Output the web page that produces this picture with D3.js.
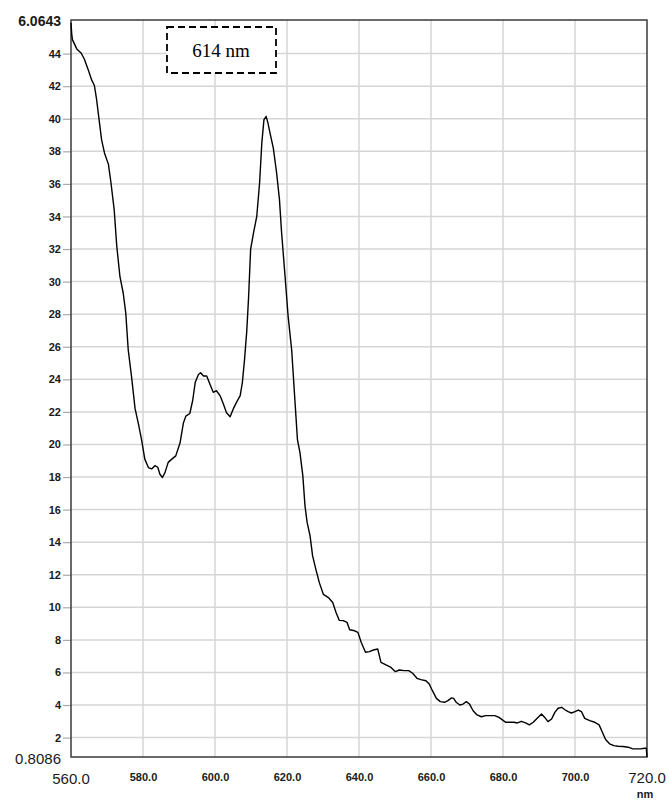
<!DOCTYPE html>
<html>
<head>
<meta charset="utf-8">
<script src="https://cdn.jsdelivr.net/npm/d3@7/dist/d3.min.js"></script>
<style>
  html, body { margin: 0; padding: 0; background: #fff; }
  svg { display: block; }
</style>
</head>
<body>
<svg id="chart" width="669" height="801"></svg>
<script>
// ---- data ----
const wavelength = [
  560.0,560.2,560.4,561.6,562.8,563.7,564.8,565.7,566.5,567.1,567.8,568.5,569.3,570.4,571.1,572.0,572.7,573.6,574.5,575.2,
  575.9,576.8,577.8,578.7,579.6,580.5,581.5,582.4,583.3,584.1,584.7,585.4,586.1,587.0,588.0,589.1,590.3,591.2,591.9,593.0,
  593.8,594.5,595.4,596.0,596.8,597.7,598.6,599.5,600.4,601.4,602.3,603.2,604.2,605.1,606.0,607.0,607.6,608.2,608.8,609.3,
  609.9,610.7,611.6,612.4,613.0,613.6,614.2,614.7,615.5,616.2,617.1,617.9,618.5,619.4,620.3,621.3,622.2,622.9,623.6,624.4,
  625.0,625.6,626.4,627.1,628.0,629.0,630.1,631.5,632.7,633.6,634.5,635.6,636.7,637.4,638.8,639.7,640.6,641.8,642.9,644.0,
  645.2,646.1,647.5,648.9,650.1,651.2,652.6,653.8,654.9,656.1,657.2,658.6,659.5,660.4,661.5,662.6,663.8,664.7,665.7,666.3,
  667.0,668.0,668.9,669.8,670.7,671.7,672.8,674.0,675.2,676.3,677.7,678.9,680.1,680.8,681.9,683.0,684.0,685.1,686.3,687.3,
  688.4,689.5,690.7,691.6,692.5,693.5,694.4,695.3,696.3,697.2,698.1,699.0,700.0,700.9,701.8,702.7,704.1,705.5,706.7,707.6,
  708.5,709.6,710.8,712.0,713.4,714.8,716.0,717.1,718.2,719.4,719.8,720.0
];
const absorbance = [
  45.9,45.2,44.86,44.29,44.04,43.67,43.0,42.4,42.04,41.2,39.95,38.7,37.9,37.2,36.07,34.4,32.2,30.3,29.3,28.1,
  25.8,24.2,22.2,21.3,20.3,19.1,18.58,18.5,18.7,18.6,18.17,17.97,18.27,18.9,19.1,19.3,20.1,21.3,21.74,21.9,
  22.7,23.8,24.3,24.4,24.2,24.2,23.7,23.2,23.3,23.0,22.5,21.95,21.7,22.2,22.6,23.0,23.8,25.2,26.9,28.9,
  32.0,33.0,34.0,36.1,38.5,39.95,40.15,39.75,38.9,38.2,36.7,35.05,33.0,30.5,27.9,25.8,22.7,20.3,19.5,18.07,
  16.23,15.2,14.4,13.17,12.35,11.5,10.8,10.6,10.3,9.7,9.2,9.18,9.07,8.62,8.56,8.46,7.85,7.24,7.28,7.38,
  7.44,6.62,6.46,6.31,6.05,6.15,6.11,6.11,5.95,5.64,5.56,5.49,5.29,4.88,4.41,4.21,4.17,4.27,4.44,4.41,
  4.17,4.0,4.06,4.21,4.06,3.65,3.39,3.28,3.35,3.35,3.35,3.24,3.04,2.94,2.94,2.94,2.9,3.0,2.9,2.78,
  2.94,3.19,3.45,3.24,2.98,3.14,3.55,3.8,3.86,3.71,3.59,3.51,3.59,3.69,3.59,3.18,3.04,2.94,2.78,2.33,
  1.88,1.62,1.51,1.47,1.45,1.41,1.31,1.31,1.31,1.35,1.35,0.81
];
const xDomain = [560, 720];
const yDomain = [0.8086, 46.0643];
const xTicks = [580, 600, 620, 640, 660, 680, 700];
const yTicks = [2,4,6,8,10,12,14,16,18,20,22,24,26,28,30,32,34,36,38,40,42,44];
const yMinLabel = "0.8086";
const yMaxLabel = "6.0643";
const xMinLabel = "560.0";
const xMaxLabel = "720.0";
const xUnit = "nm";
const annotation = "614 nm";

// ---- layout ----
const svg = d3.select("#chart");
const L = 71, R = 647, T = 20, B = 757;
const x = d3.scaleLinear().domain(xDomain).range([L, R]);
const y = d3.scaleLinear().domain(yDomain).range([B, T]);
const ink = "#1a1a1a";

// gridlines
svg.append("g").selectAll("line.v").data(xTicks).join("line")
  .attr("x1", d => x(d)).attr("x2", d => x(d))
  .attr("y1", T).attr("y2", B)
  .attr("stroke", "#d6d6d6").attr("stroke-width", 1.5);
svg.append("g").selectAll("line.h").data(yTicks).join("line")
  .attr("x1", L).attr("x2", R)
  .attr("y1", d => y(d)).attr("y2", d => y(d))
  .attr("stroke", "#d6d6d6").attr("stroke-width", 1.5);

// y axis ticks & labels
const yAxis = d3.axisLeft(y).tickValues(yTicks).tickSize(8).tickFormat(d3.format("d"));
const gy = svg.append("g").attr("transform", `translate(${L},0)`).call(yAxis);
gy.select(".domain").remove();
gy.selectAll(".tick line").attr("stroke", "#aaa").attr("stroke-width", 1.2);
gy.selectAll(".tick text")
  .attr("x", -10)
  .attr("fill", ink)
  .style("font-family", "'Liberation Sans', Arial, sans-serif")
  .style("font-size", "11px").style("font-weight", "bold");

// x axis labels
const xAxis = d3.axisBottom(x).tickValues(xTicks).tickSize(0).tickFormat(d3.format(".1f"));
const gx = svg.append("g").attr("transform", `translate(0,${B})`).call(xAxis);
gx.select(".domain").remove();
gx.selectAll(".tick text")
  .attr("y", 16)
  .attr("fill", ink)
  .style("font-family", "'Liberation Sans', Arial, sans-serif")
  .style("font-size", "11px").style("font-weight", "bold");

// extreme labels
const big = "'Liberation Sans', Arial, sans-serif";
svg.append("text").attr("x", 61).attr("y", y(yDomain[1]) + 6)
  .attr("text-anchor", "end").attr("fill", ink)
  .style("font-family", big).style("font-size", "14px").style("font-weight", "bold")
  .text(yMaxLabel);
svg.append("text").attr("x", 61).attr("y", y(yDomain[0]) + 7)
  .attr("text-anchor", "end").attr("fill", ink)
  .style("font-family", big).style("font-size", "15px")
  .text(yMinLabel);
svg.append("text").attr("x", x(xDomain[0])).attr("y", B + 27)
  .attr("text-anchor", "middle").attr("fill", ink)
  .style("font-family", big).style("font-size", "15px")
  .text(xMinLabel);
svg.append("text").attr("x", x(xDomain[1])).attr("y", B + 26)
  .attr("text-anchor", "middle").attr("fill", ink)
  .style("font-family", big).style("font-size", "15px")
  .text(xMaxLabel);
svg.append("text").attr("x", x(xDomain[1]) - 2).attr("y", B + 41)
  .attr("text-anchor", "middle").attr("fill", ink)
  .style("font-family", big).style("font-size", "11px").style("font-weight", "bold")
  .text(xUnit);

// plot border
svg.append("rect").attr("x", L).attr("y", T)
  .attr("width", R - L).attr("height", B - T)
  .attr("fill", "none").attr("stroke", "#3a3a3a").attr("stroke-width", 1.5);

// spectrum line
const pts = wavelength.map((w, i) => [w, absorbance[i]]);
svg.append("path")
  .datum(pts)
  .attr("fill", "none")
  .attr("stroke", "#000")
  .attr("stroke-width", 1.4)
  .attr("stroke-linejoin", "round")
  .attr("d", d3.line().x(d => x(d[0])).y(d => y(d[1])));

// annotation box
svg.append("rect").attr("x", 167).attr("y", 27).attr("width", 109).attr("height", 46)
  .attr("fill", "#fff").attr("stroke", "#000").attr("stroke-width", 1.8)
  .attr("stroke-dasharray", "7,4");
svg.append("text").attr("x", 221).attr("y", 57)
  .attr("text-anchor", "middle").attr("fill", "#000")
  .style("font-family", "'Liberation Serif', 'Times New Roman', serif")
  .style("font-size", "19px")
  .text(annotation);
</script>
</body>
</html>
